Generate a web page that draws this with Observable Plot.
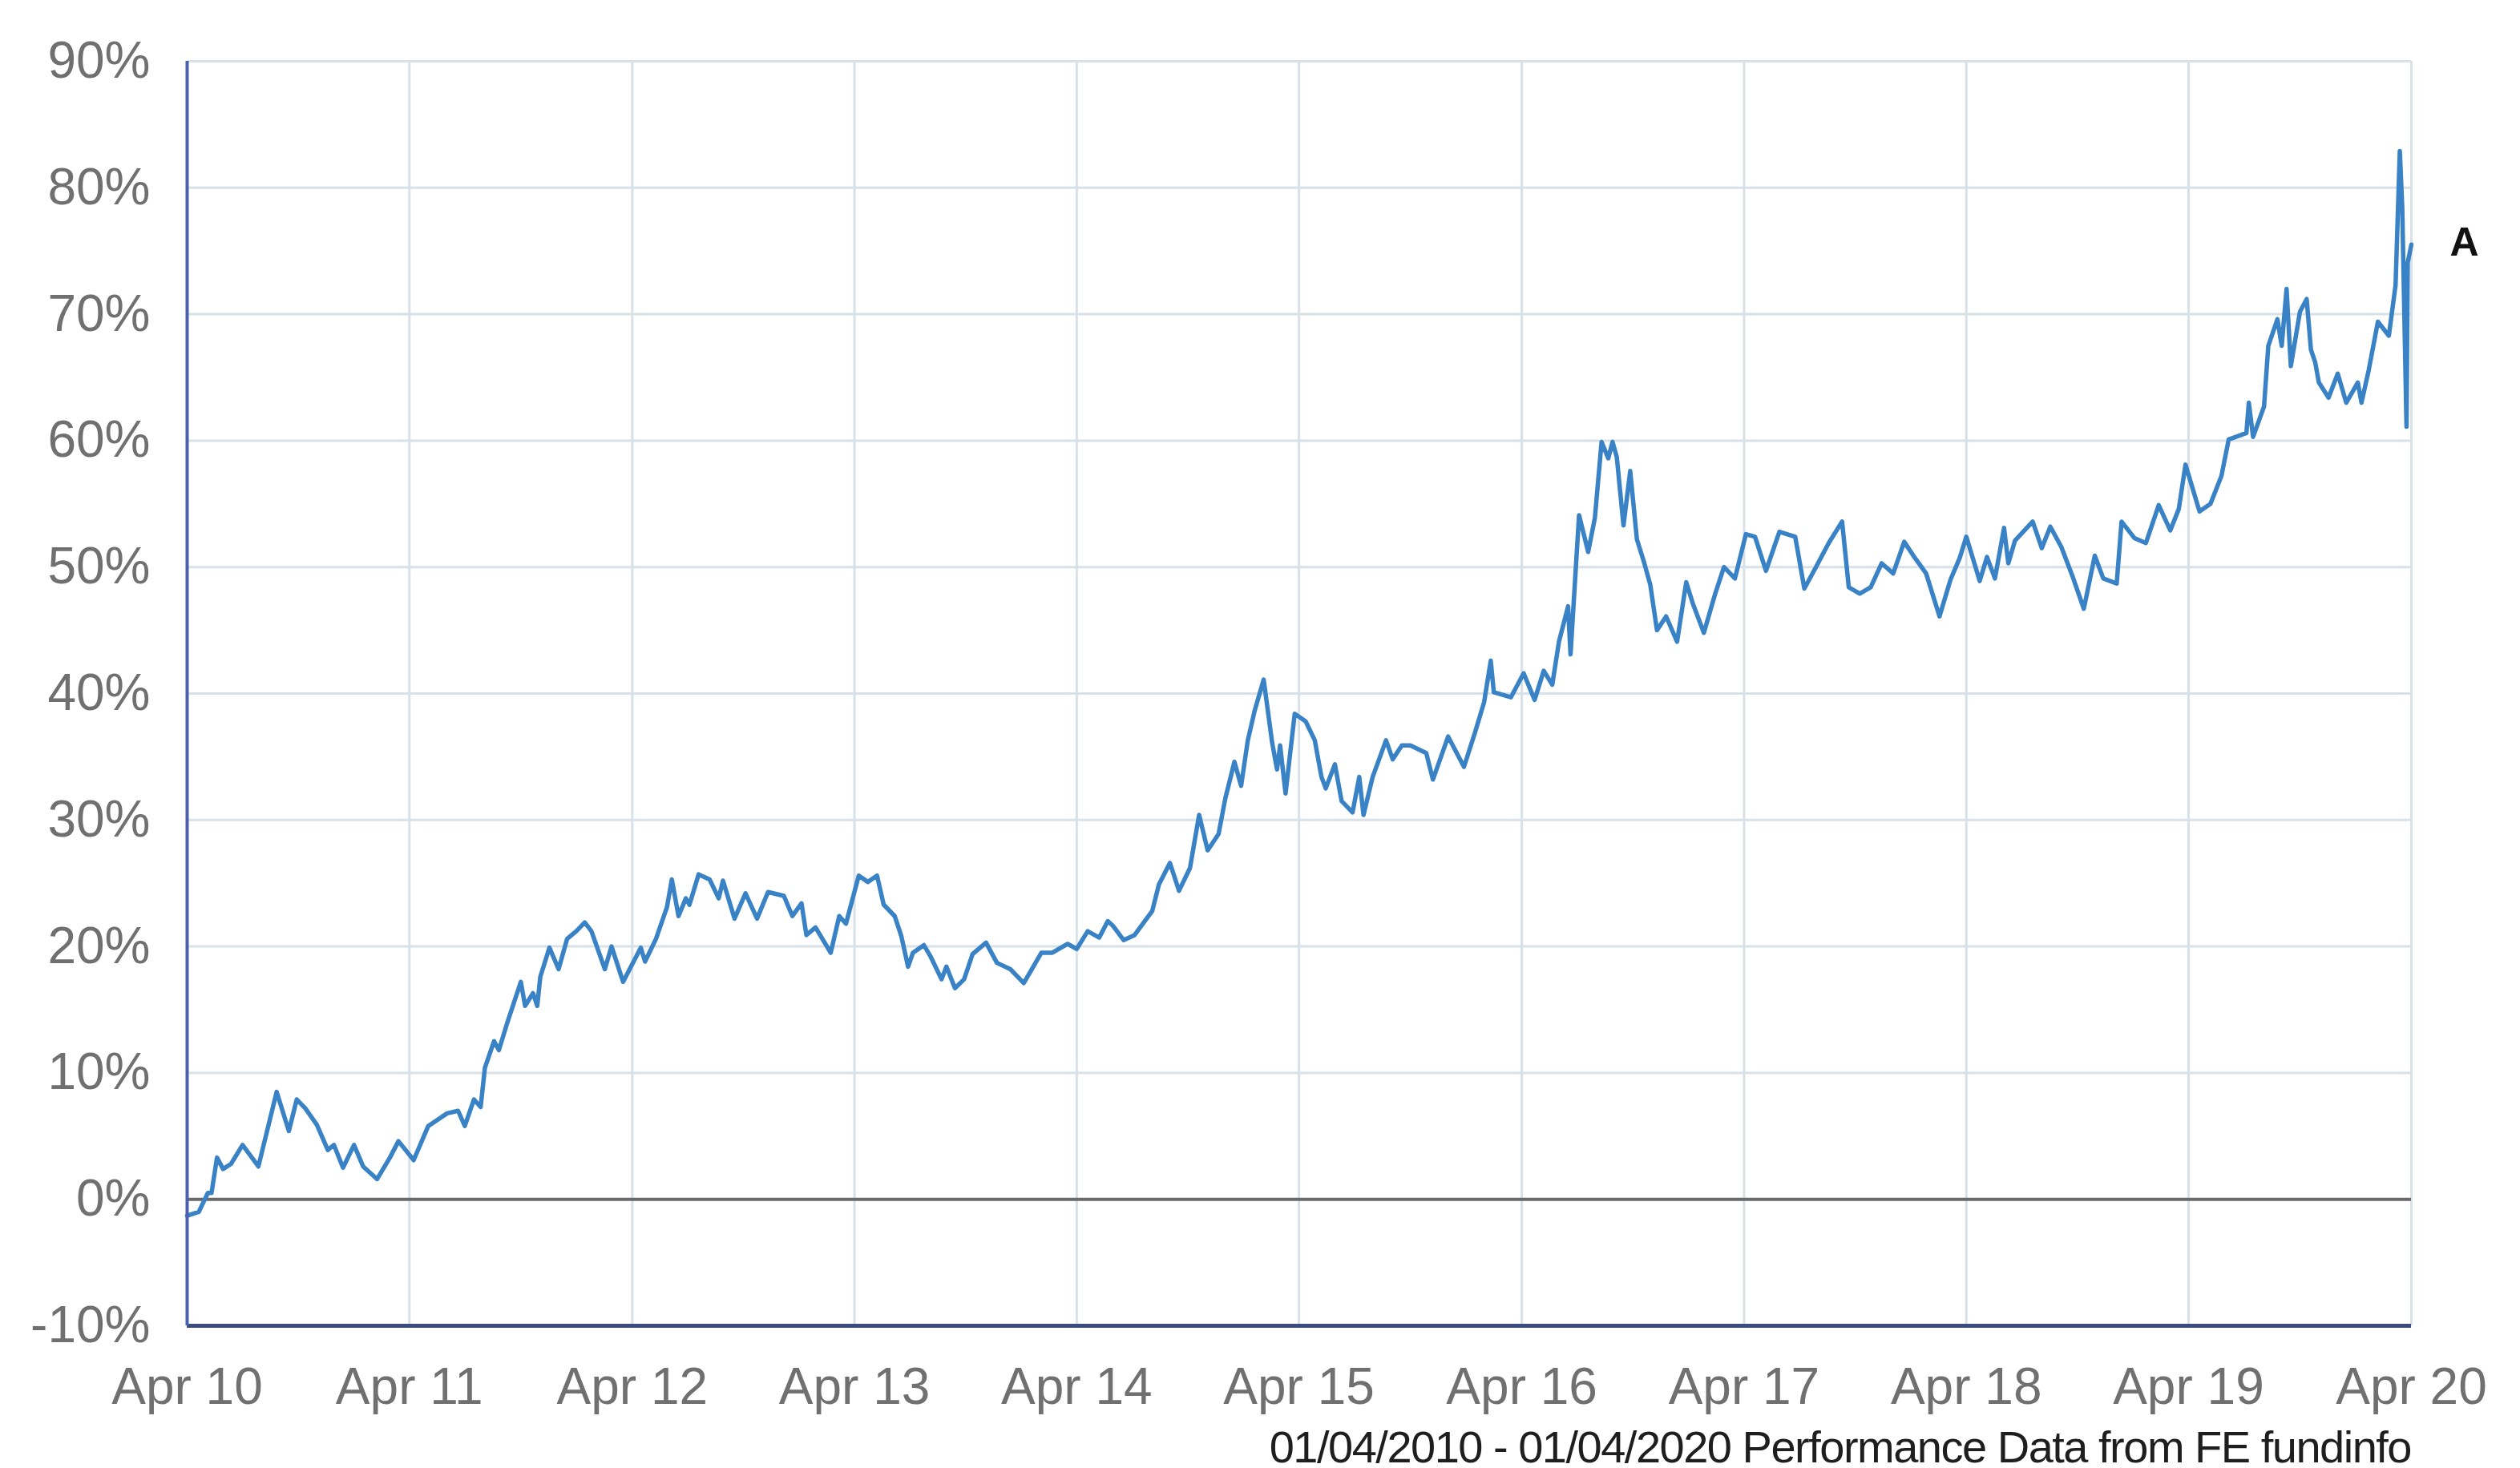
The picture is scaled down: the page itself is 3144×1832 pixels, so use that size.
<!DOCTYPE html>
<html>
<head>
<meta charset="utf-8">
<script src="https://cdn.jsdelivr.net/npm/d3@7"></script>
<script src="https://cdn.jsdelivr.net/npm/@observablehq/plot@0.6"></script>
<style>
  html, body { margin: 0; padding: 0; background: #ffffff; }
  #chart svg { display: block; }
  #caption {
    font-family: "Liberation Sans", Arial, sans-serif;
    font-size: 56px;
    letter-spacing: -1.5px;
    color: #1e1e1e;
    text-align: right;
    padding-right: 136px;
    line-height: 52px;
    height: 52px;
    width: 3144px;
    box-sizing: border-box;
  }
</style>
</head>
<body>
<div id="chart"></div>
<div id="caption">01/04/2010 - 01/04/2020 Performance Data from FE fundinfo</div>
<script>
const dates = [
"2010-04-01","2010-04-20","2010-05-05","2010-05-11","2010-05-20","2010-05-30","2010-06-12","2010-07-01","2010-07-27","2010-08-26",
"2010-09-15","2010-09-28","2010-10-12","2010-10-31","2010-11-18","2010-11-28","2010-12-13","2010-12-31","2011-01-15","2011-02-07",
"2011-02-28","2011-03-14","2011-04-08","2011-05-02","2011-06-02","2011-06-20","2011-07-01","2011-07-16","2011-07-27","2011-08-03",
"2011-08-18","2011-08-26","2011-09-09","2011-10-01","2011-10-08","2011-10-21","2011-10-28","2011-11-02","2011-11-17","2011-12-02",
"2011-12-16","2011-12-31","2012-01-14","2012-01-25","2012-02-16","2012-02-27","2012-03-17","2012-04-15","2012-04-22","2012-05-10",
"2012-05-28","2012-06-05","2012-06-16","2012-06-28","2012-07-04","2012-07-19","2012-08-06","2012-08-21","2012-08-28","2012-09-16",
"2012-10-04","2012-10-23","2012-11-10","2012-12-06","2012-12-20","2013-01-04","2013-01-12","2013-01-27","2013-02-21","2013-03-07",
"2013-03-18","2013-04-08","2013-04-23","2013-05-08","2013-05-19","2013-06-06","2013-06-17","2013-06-28","2013-07-06","2013-07-24",
"2013-08-04","2013-08-22","2013-08-30","2013-09-13","2013-09-28","2013-10-12","2013-11-03","2013-11-21","2013-12-13","2014-01-04",
"2014-02-02","2014-02-20","2014-03-17","2014-04-01","2014-04-19","2014-05-08","2014-05-22","2014-05-31","2014-06-17","2014-07-05",
"2014-08-03","2014-08-14","2014-09-01","2014-09-16","2014-10-04","2014-10-19","2014-11-02","2014-11-20","2014-12-01","2014-12-16",
"2014-12-27","2015-01-07","2015-01-18","2015-02-02","2015-02-16","2015-02-24","2015-03-01","2015-03-10","2015-03-25","2015-04-12",
"2015-04-27","2015-05-08","2015-05-15","2015-05-30","2015-06-10","2015-06-28","2015-07-09","2015-07-16","2015-07-31","2015-08-22",
"2015-09-02","2015-09-17","2015-10-01","2015-10-27","2015-11-07","2015-12-02","2015-12-28","2016-01-15","2016-01-30","2016-02-10",
"2016-02-15","2016-03-14","2016-04-04","2016-04-22","2016-05-07","2016-05-21","2016-06-01","2016-06-16","2016-06-20","2016-07-04",
"2016-07-19","2016-07-30","2016-08-10","2016-08-21","2016-08-28","2016-09-04","2016-09-15","2016-09-26","2016-10-07","2016-10-18",
"2016-10-29","2016-11-09","2016-11-24","2016-12-12","2016-12-27","2017-01-07","2017-01-25","2017-02-12","2017-02-27","2017-03-17",
"2017-04-04","2017-04-19","2017-05-07","2017-05-29","2017-06-24","2017-07-09","2017-07-27","2017-08-18","2017-09-09","2017-09-20",
"2017-10-08","2017-10-26","2017-11-13","2017-12-02","2017-12-20","2018-01-07","2018-01-25","2018-02-16","2018-03-06","2018-03-21",
"2018-04-01","2018-04-23","2018-05-05","2018-05-18","2018-06-02","2018-06-09","2018-06-20","2018-07-19","2018-08-03","2018-08-17",
"2018-09-04","2018-09-23","2018-10-11","2018-10-29","2018-11-12","2018-12-04","2018-12-12","2019-01-02","2019-01-21","2019-02-11",
"2019-03-02","2019-03-16","2019-03-27","2019-04-19","2019-05-07","2019-05-25","2019-06-06","2019-07-05","2019-07-09","2019-07-16",
"2019-08-03","2019-08-10","2019-08-25","2019-09-01","2019-09-09","2019-09-16","2019-10-01","2019-10-12","2019-10-19","2019-10-26",
"2019-11-01","2019-11-17","2019-12-02","2019-12-16","2020-01-04","2020-01-10","2020-01-22","2020-02-06","2020-02-24","2020-03-06",
"2020-03-13","2020-03-17","2020-03-24","2020-03-26","2020-04-01"
];

const values = [
-1.3,-1.0,0.5,0.5,3.3,2.4,2.8,4.3,2.6,8.5,
5.4,7.9,7.2,5.9,3.9,4.3,2.5,4.3,2.6,1.6,
3.3,4.6,3.1,5.8,6.8,7.0,5.8,7.9,7.3,10.4,
12.5,11.8,14.0,17.2,15.3,16.3,15.3,17.6,19.9,18.2,
20.6,21.2,21.9,21.2,18.2,20.0,17.2,19.9,18.8,20.6,
23.1,25.3,22.4,23.8,23.3,25.7,25.3,23.8,25.2,22.2,
24.2,22.2,24.3,24.0,22.4,23.4,20.9,21.5,19.5,22.4,
21.8,25.6,25.1,25.6,23.3,22.4,20.8,18.4,19.5,20.1,
19.2,17.4,18.4,16.7,17.4,19.4,20.3,18.7,18.2,17.1,
19.5,19.5,20.2,19.8,21.2,20.7,22.0,21.6,20.5,20.9,
22.8,24.9,26.6,24.4,26.2,30.4,27.6,28.9,31.7,34.6,
32.7,36.3,38.6,41.1,36.1,34.0,35.9,32.1,38.4,37.8,
36.3,33.4,32.5,34.4,31.5,30.6,33.4,30.4,33.4,36.3,
34.8,35.9,35.9,35.3,33.2,36.6,34.2,36.9,39.3,42.6,
40.1,39.7,41.6,39.5,41.8,40.7,44.1,46.9,43.1,54.1,
51.2,53.9,59.9,58.6,59.9,58.7,53.3,57.6,52.2,50.5,
48.6,45.0,46.1,44.1,48.8,47.1,44.8,47.8,50.0,49.1,
52.6,52.4,49.7,52.8,52.4,48.3,49.9,51.9,53.6,48.4,
47.9,48.4,50.3,49.5,52.0,50.7,49.5,46.1,49.0,50.7,
52.4,48.9,50.8,49.1,53.1,50.3,52.1,53.6,51.5,53.2,
51.6,49.2,46.7,50.9,49.1,48.7,53.6,52.3,51.9,54.9,
52.9,54.6,58.1,54.4,55.0,57.2,60.1,60.6,63.0,60.3,
62.7,67.5,69.6,67.5,72.0,65.9,70.2,71.2,67.2,66.2,
64.6,63.4,65.3,63.0,64.6,63.0,65.6,69.4,68.3,72.3,
82.9,78.4,61.1,74.1,75.5
];

const xTickDates = ["2010-04-01","2011-04-01","2012-04-01","2013-04-01","2014-04-01","2015-04-01",
                    "2016-04-01","2017-04-01","2018-04-01","2019-04-01","2020-04-01"];
const yTicks = [-10, 0, 10, 20, 30, 40, 50, 60, 70, 80, 90];
const seriesLabel = "A";

const data = dates.map((d, i) => ({date: new Date(d), value: values[i]}));
const xTicks = xTickDates.map(d => new Date(d));
const last = data[data.length - 1];

const chart = Plot.plot({
  width: 3144,
  height: 1780,
  marginLeft: 233,
  marginRight: 136,
  marginTop: 76,
  marginBottom: 126,
  style: {
    fontFamily: "'Liberation Sans', Arial, sans-serif",
    fontSize: "64px",
    color: "#707070",
    background: "#ffffff"
  },
  x: {type: "utc", domain: [xTicks[0], xTicks[xTicks.length - 1]], label: null},
  y: {domain: [-10, 90], label: null},
  marks: [
    Plot.gridX(xTicks, {stroke: "#d8e1e8", strokeOpacity: 1, strokeWidth: 3}),
    Plot.gridY(yTicks, {stroke: "#d8e1e8", strokeOpacity: 1, strokeWidth: 3}),
    Plot.ruleY([0], {stroke: "#6a6a6a", strokeWidth: 4}),
    Plot.lineY(data, {x: "date", y: "value", stroke: "#3a82c6", strokeWidth: 5.5, strokeLinejoin: "round"}),
    Plot.ruleY([-10], {stroke: "#3c4a82", strokeWidth: 5}),
    Plot.ruleX([xTicks[0]], {stroke: "#4b5fae", strokeWidth: 4}),
    Plot.text([last], {x: "date", y: "value", text: () => seriesLabel, dx: 66, dy: -2,
      fontSize: 50, fontWeight: "bold", fill: "#111111", textAnchor: "middle"}),
    Plot.axisX({ticks: xTicks, tickFormat: d3.utcFormat("%b %y"), tickSize: 0, tickPadding: 52, fontSize: 64, label: null}),
    Plot.axisY({ticks: yTicks, tickFormat: d => d + "%", tickSize: 0, tickPadding: 46, fontSize: 64, label: null})
  ]
});

document.getElementById("chart").appendChild(chart);
</script>
</body>
</html>
